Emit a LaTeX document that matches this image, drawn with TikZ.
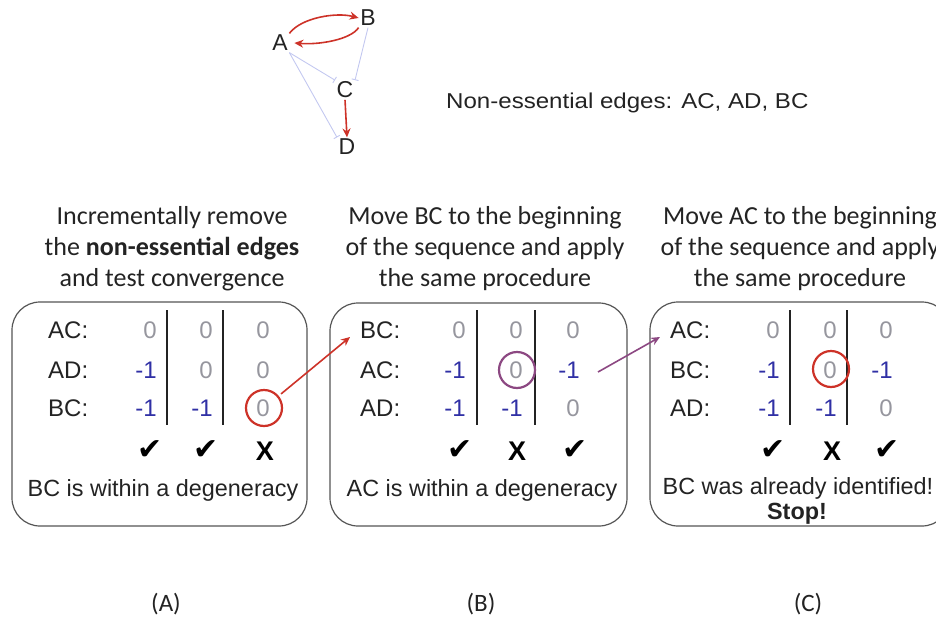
\documentclass[tikz,border=0pt]{standalone}
\usepackage{fontspec}
\setmainfont{Liberation Sans}
\newfontfamily\calfont{Carlito}
\newfontfamily\symfont{DejaVu Sans}
\newfontfamily\widefont[FakeStretch=1.12]{Liberation Sans}
\usetikzlibrary{arrows.meta}
\definecolor{redc}{RGB}{205,50,40}
\definecolor{purc}{RGB}{140,72,130}
\definecolor{bluen}{RGB}{48,48,165}
\definecolor{grayn}{RGB}{150,150,158}
\definecolor{inhib}{RGB}{195,200,240}
\definecolor{boxc}{RGB}{85,85,85}
\definecolor{txt}{RGB}{35,35,35}
\tikzset{
  panel/.style={draw=boxc, line width=1.2pt, rounded corners=28pt},
  lab/.style={anchor=west, inner sep=0pt, text=txt, font=\fontsize{24}{28}\selectfont},
  zer/.style={anchor=east, inner sep=0pt, text=grayn, font=\fontsize{24}{28}\selectfont},
  neg/.style={anchor=east, inner sep=0pt, text=bluen, font=\fontsize{24}{28}\selectfont},
  divl/.style={draw=txt, line width=1.1pt},
  chk/.style={inner sep=0pt, text=black, font=\symfont\fontsize{30}{32}\selectfont},
  crs/.style={inner sep=0pt, text=black, font=\bfseries\fontsize{27}{30}\selectfont},
  note/.style={inner sep=0pt, text=txt, font=\fontsize{23.4}{27}\selectfont},
  head/.style={align=center, inner sep=0pt, text=txt, font=\calfont\fontsize{26}{31}\selectfont},
  sub/.style={inner sep=0pt, text=txt, font=\calfont\fontsize{25}{28}\selectfont},
  ring/.style={circle, draw, line width=2.2pt, minimum size=36pt, inner sep=0pt},
  gnode/.style={inner sep=1.5pt, text=txt, font=\fontsize{23}{26}\selectfont},
  act/.style={draw=redc, line width=1.6pt, -{Stealth[length=9pt,width=8pt]}},
  inh/.style={draw=inhib, line width=0.9pt, -{Bar[width=7pt]}}
}
\begin{document}
\begin{tikzpicture}[x=1pt,y=-1pt]
\useasboundingbox (0,0) rectangle (936,618);

% small network
\node[gnode] (A) at (280,43) {A};
\node[gnode] (B) at (368,18) {B};
\node[gnode] (C) at (345,90) {C};
\node[gnode] (D) at (347,147) {D};
\draw[act] (A.north east) .. controls +(12,-16) and +(-22,-6) .. (B.west);
\draw[act] (B.south west) .. controls +(-8,12) and +(25,2) .. ([xshift=5pt]A.east);
\draw[act] (C.south) -- (D.north);
\draw[inh] (A.south east) -- (C.north west);
\draw[inh] (B.south) -- (C.north east);
\draw[inh] (A.south east) -- (D.north west);
\node[anchor=west, inner sep=0pt, text=txt, font=\widefont\fontsize{21.5}{26}\selectfont] (ne) at (446,103) {Non-essential edges: AC, AD, BC};

% headings
\node[head] (hA) at (172,249) {Incrementally remove\\the \textbf{non-essential edges}\\and test convergence};
\node[head] (hB) at (485,249) {Move BC to the beginning\\of the sequence and apply\\the same procedure};
\node[head] (hC) at (800,249) {Move AC to the beginning\\of the sequence and apply\\the same procedure};

% panels
\draw[panel] (12,302) rectangle (307,526);
\draw[panel] (330,303) rectangle (627,526);
\draw[panel] (650,302) rectangle (950,526);

% panel A
\node[lab] (a1) at (48,330) {AC:};
\node[lab] (a2) at (48,370) {AD:};
\node[lab] (a3) at (48,408) {BC:};
\node[zer] (a11) at (157,330) {0};
\node[zer] (a12) at (213,330) {0};
\node[zer] (a13) at (270,330) {0};
\node[neg] (a21) at (157,370) {-1};
\node[zer] (a22) at (213,370) {0};
\node[zer] (a23) at (270,370) {0};
\node[neg] (a31) at (157,408) {-1};
\node[neg] (a32) at (213,408) {-1};
\node[zer] (a33) at (270,408) {0};
\draw[divl] (167,310) -- (167,425);
\draw[divl] (223,310) -- (223,425);
\node[chk] (ka1) at (150,450) {✔};
\node[chk] (ka2) at (206,450) {✔};
\node[crs] (ka3) at (265,451) {X};
\node[note] (na) at (163,490) {BC is within a degeneracy};
\node[ring, draw=redc] (ra) at (264,408) {};

% panel B
\node[lab] (b1) at (360,330) {BC:};
\node[lab] (b2) at (360,370) {AC:};
\node[lab] (b3) at (360,408) {AD:};
\node[zer] (b11) at (466,330) {0};
\node[zer] (b12) at (523,330) {0};
\node[zer] (b13) at (580,330) {0};
\node[neg] (b21) at (466,370) {-1};
\node[zer] (b22) at (523,370) {0};
\node[neg] (b23) at (580,370) {-1};
\node[neg] (b31) at (466,408) {-1};
\node[neg] (b32) at (523,408) {-1};
\node[zer] (b33) at (580,408) {0};
\draw[divl] (477,310) -- (477,425);
\draw[divl] (535,310) -- (535,425);
\node[chk] (kb1) at (460,450) {✔};
\node[crs] (kb2) at (517,451) {X};
\node[chk] (kb3) at (575,450) {✔};
\node[note] (nb) at (482,490) {AC is within a degeneracy};
\node[ring, draw=purc] (rb) at (517,370) {};

% panel C
\node[lab] (c1) at (670,330) {AC:};
\node[lab] (c2) at (670,370) {BC:};
\node[lab] (c3) at (670,408) {AD:};
\node[zer] (c11) at (780,330) {0};
\node[zer] (c12) at (837,330) {0};
\node[zer] (c13) at (893,330) {0};
\node[neg] (c21) at (780,370) {-1};
\node[zer] (c22) at (837,370) {0};
\node[neg] (c23) at (893,370) {-1};
\node[neg] (c31) at (780,408) {-1};
\node[neg] (c32) at (837,408) {-1};
\node[zer] (c33) at (893,408) {0};
\draw[divl] (790,310) -- (790,425);
\draw[divl] (847,310) -- (847,425);
\node[chk] (kc1) at (773,450) {✔};
\node[crs] (kc2) at (832,451) {X};
\node[chk] (kc3) at (887,450) {✔};
\node[note] (nc) at (798,488) {BC was already identified!};
\node[note, font=\bfseries\fontsize{23.4}{27}\selectfont] (nc2) at (797,514) {Stop!};
\node[ring, draw=redc] (rc) at (831,369) {};

% connecting arrows
\coordinate (pB) at (350,337);
\coordinate (sC) at (598,372);
\coordinate (pC) at (660,337);
\draw[act, shorten <=3pt] (ra) -- (pB);
\draw[act, draw=purc] (sC) -- (pC);

% sub labels
\node[sub] (lA) at (166,604) {(A)};
\node[sub] (lB) at (481,604) {(B)};
\node[sub] (lC) at (808,604) {(C)};
\end{tikzpicture}
\end{document}
